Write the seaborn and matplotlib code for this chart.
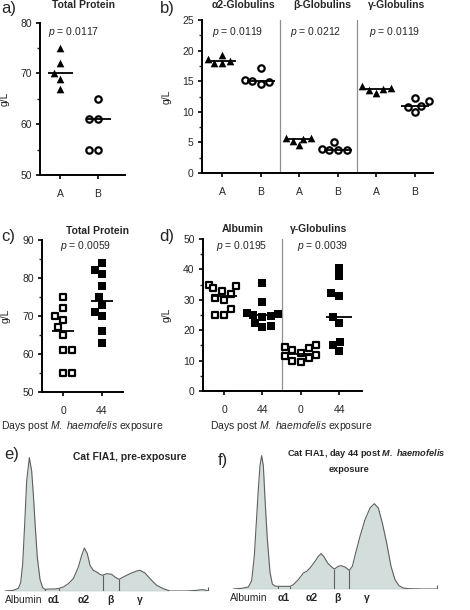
import numpy as np
import pandas as pd
import matplotlib
matplotlib.use("Agg")
import matplotlib.pyplot as plt
import seaborn as sns
from matplotlib.ticker import MultipleLocator

# ---------------- data ----------------
# a) total protein, groups A / B
a_tick_labels = ["A", "B"]
a_A = [75, 72, 70, 69, 67]
a_B = [65, 61, 61, 55, 55]
a_title = "Total Protein"
a_p = "0.0117"

# b) globulin fractions, groups A / B
b_titles = ["α2-Globulins", "β-Globulins", "γ-Globulins"]
b_p = ["0.0119", "0.0212", "0.0119"]
b_tick_labels = ["A", "B", "A", "B", "A", "B"]
b_a2_A = [19.3, 18.7, 18.3, 17.9, 17.9]
b_a2_B = [17.2, 15.2, 15.0, 14.8, 14.5]
b_beta_A = [5.8, 5.7, 5.6, 5.3, 4.5]
b_beta_B = [5.0, 4.0, 3.8, 3.8, 3.7]
b_gam_A = [14.2, 13.9, 13.8, 13.6, 13.1]
b_gam_B = [12.3, 11.7, 10.9, 10.8, 9.9]

# c) total protein, day 0 / day 44
c_tick_labels = ["0", "44"]
c_day0 = [75, 72, 70, 69, 67, 65, 61, 61, 55, 55]
c_day44 = [84, 82, 81, 78, 75, 73, 71, 70, 66, 63]
c_title = "Total Protein"
c_p = "0.0059"

# d) albumin and gamma globulins, day 0 / day 44
d_titles = ["Albumin", "γ-Globulins"]
d_p = ["0.0195", "0.0039"]
d_tick_labels = ["0", "44", "0", "44"]
d_alb_day0 = [35, 34.5, 34, 33, 32, 30.5, 30, 27, 25, 25]
d_alb_day44 = [35.5, 29.3, 25.8, 25.4, 25, 24.7, 24.3, 22.5, 21.5, 21]
d_gam_day0 = [15, 14.5, 14, 13.5, 12.5, 12, 11.5, 11, 10, 9.5]
d_gam_day44 = [40.5, 37.8, 32.3, 31.4, 24.3, 22.4, 16.1, 15, 13.3]

xlabel_days = "Days post $\\mathit{M.\\ haemofelis}$ exposure"

# e) / f) electrophoretograms (migration distance, absorbance trace)
fraction_labels = ["Albumin", "α1", "α2", "β", "γ"]
e_title = "Cat FIA1, pre-exposure"
e_x = [15, 40, 55, 62, 68, 74, 80, 88, 95, 100, 106, 112, 120, 128, 135, 150,
       165, 177, 190, 205, 220, 235, 245, 253, 262, 270, 280, 290, 300, 308,
       320, 335, 345, 357, 370, 390, 410, 420, 435, 450, 470, 490, 510, 560,
       590, 605, 615, 625]
e_h = [0, 2, 8, 25, 80, 200, 330, 400, 360, 290, 190, 100, 35, 10, 5, 6,
       6, 8, 12, 22, 37, 72, 107, 129, 112, 77, 62, 57, 50, 47,
       52, 50, 42, 35, 42, 52, 60, 62, 54, 37, 17, 7, 0, 0,
       2, 4, 3, 0]
e_bounds = [135, 177, 308, 357]
e_label_x = [70, 160, 250, 332, 420]

f_title_1 = "Cat FIA1, day 44 post $\\mathbfit{M.\\ haemofelis}$"
f_title_2 = "exposure"
f_x = [-5, 20, 40, 50, 58, 64, 70, 75, 80, 85, 90, 97, 105, 112, 120, 128,
       145, 165, 175, 190, 205, 215, 225, 240, 250, 258, 266, 278, 290, 298,
       310, 318, 330, 343, 352, 362, 375, 390, 405, 418, 430, 442, 455, 468,
       480, 492, 505, 520, 560, 605]
f_h = [0, 2, 6, 25, 100, 200, 300, 370, 400, 370, 270, 150, 50, 15, 9, 8,
       8, 8, 13, 28, 48, 53, 63, 83, 98, 106, 98, 78, 66, 60,
       68, 70, 66, 56, 68, 108, 158, 208, 243, 256, 243, 198, 138, 68,
       28, 10, 3, 1, 0, 0]
f_bounds = [128, 165, 298, 343]
f_label_x = [40, 145, 230, 308, 395]

# ---------------- style ----------------
sns.set_style("ticks")
plt.rcParams["font.family"] = ["Liberation Sans", "DejaVu Sans"]
plt.rcParams["mathtext.fontset"] = "custom"
plt.rcParams["mathtext.rm"] = "Liberation Sans"
plt.rcParams["mathtext.it"] = "Liberation Sans:italic"
plt.rcParams["mathtext.bf"] = "Liberation Sans:bold"
try:
    plt.rcParams["mathtext.bfit"] = "Liberation Sans:italic:bold"
except KeyError:
    f_title_1 = "Cat FIA1, day 44 post M. haemofelis"

FS = 7.5
W, H = 470, 610
fig = plt.figure(figsize=(W / 100, H / 100), dpi=100)


def px_axes(l, t, r, b):
    return fig.add_axes([l / W, 1 - b / H, (r - l) / W, (b - t) / H])


def ftext(x, y, s, **kw):
    kw.setdefault("ha", "center")
    kw.setdefault("va", "center")
    kw.setdefault("fontsize", FS)
    fig.text(x / W, 1 - y / H, s, **kw)


def draw_group(ax, values, cat, order, marker, filled, size, lw=1.6):
    df = pd.DataFrame({"cat": [cat] * len(values), "val": values})
    if filled:
        sns.swarmplot(data=df, x="cat", y="val", order=order, ax=ax,
                      marker=marker, size=size, color="black",
                      linewidth=0, zorder=3)
    else:
        sns.swarmplot(data=df, x="cat", y="val", order=order, ax=ax,
                      marker=marker, size=size, color="white",
                      edgecolor="black", linewidth=lw, zorder=3)


def draw_medians(ax, groups, order, width_pt):
    df = pd.concat([pd.DataFrame({"cat": [c] * len(v), "val": v})
                    for c, v in groups], ignore_index=True)
    sns.pointplot(data=df, x="cat", y="val", order=order, estimator="median",
                  errorbar=None, color="black", marker="_",
                  markersize=width_pt, markeredgewidth=1.3,
                  linestyle="none", ax=ax, zorder=4)


def style_axis(ax, ylim, major, minor, xlim, ticklabels, label_x):
    ax.set_ylim(*ylim)
    ax.set_xlim(*xlim)
    ax.yaxis.set_major_locator(MultipleLocator(major))
    ax.yaxis.set_minor_locator(MultipleLocator(minor))
    ax.set_xticks(range(len(ticklabels)))
    ax.set_xticklabels(ticklabels)
    for s in ["top", "right"]:
        ax.spines[s].set_visible(False)
    for s in ["left", "bottom"]:
        ax.spines[s].set_linewidth(1.4)
        ax.spines[s].set_color("black")
    ax.tick_params(axis="both", which="major", length=3, width=1.2,
                   labelsize=FS, color="black")
    ax.tick_params(axis="y", which="major", pad=3)
    ax.tick_params(axis="y", which="minor", length=2, width=1.0)
    ax.tick_params(axis="x", which="major", pad=7)
    ax.set_xlabel("")
    ax.set_ylabel("g/L", fontsize=FS)
    ax.yaxis.set_label_coords(label_x, 0.5)
    ax.set_facecolor("none")


# ---------------- a) ----------------
ax_a = px_axes(40, 22.7, 125, 175)
a_order = ["A", "B"]
draw_group(ax_a, a_A, "A", a_order, "^", True, 5.5)
draw_group(ax_a, a_B, "B", a_order, "o", False, 4.6)
draw_medians(ax_a, [("A", a_A), ("B", a_B)], a_order, 18)
style_axis(ax_a, (50, 80), 10, 5, (-0.53, 1.71), a_tick_labels, (10 - 40) / 85)
ftext(83, 5.5, a_title, fontweight="bold")
ftext(74, 32, f"$p$ = {a_p}")

# ---------------- b) ----------------
ax_b = px_axes(202, 20, 433, 173)
b_order = ["a2A", "a2B", "bA", "bB", "gA", "gB"]
for cat, vals in [("a2A", b_a2_A), ("bA", b_beta_A), ("gA", b_gam_A)]:
    draw_group(ax_b, vals, cat, b_order, "^", True, 5.5)
for cat, vals in [("a2B", b_a2_B), ("bB", b_beta_B), ("gB", b_gam_B)]:
    draw_group(ax_b, vals, cat, b_order, "o", False, 4.6)
draw_medians(ax_b, [("a2A", b_a2_A), ("a2B", b_a2_B), ("bA", b_beta_A),
                    ("bB", b_beta_B), ("gA", b_gam_A), ("gB", b_gam_B)],
             b_order, 19.5)
for xs in (1.5, 3.5):
    ax_b.axvline(xs, color="#8f8f8f", lw=0.9, zorder=1)
style_axis(ax_b, (0, 25), 5, 2.5, (-0.52, 5.47), b_tick_labels, (172 - 202) / 231)
for x, t in zip([243, 322, 397], b_titles):
    ftext(x, 5.5, t, fontweight="bold")
for x, p in zip([238, 316, 395], b_p):
    ftext(x, 32, f"$p$ = {p}")

# ---------------- c) ----------------
ax_c = px_axes(42, 240, 123, 392)
c_order = ["d0", "d44"]
draw_group(ax_c, c_day0, "d0", c_order, "s", False, 4.8)
draw_group(ax_c, c_day44, "d44", c_order, "s", True, 5.8)
draw_medians(ax_c, [("d0", c_day0), ("d44", c_day44)], c_order, 16)
style_axis(ax_c, (50, 90), 10, 5, (-0.54, 1.54), c_tick_labels, (11 - 42) / 81)
ax_c.set_xlabel(xlabel_days, fontsize=FS)
ax_c.xaxis.set_label_coords((82 - 42) / 81, -(419 - 392) / 152)
ftext(97, 231, c_title, fontweight="bold")
ftext(86, 246, f"$p$ = {c_p}")

# ---------------- d) ----------------
ax_d = px_axes(203, 239, 362, 391)
d_order = ["a0", "a44", "g0", "g44"]
draw_group(ax_d, d_alb_day0, "a0", d_order, "s", False, 4.8)
draw_group(ax_d, d_gam_day0, "g0", d_order, "s", False, 4.8)
draw_group(ax_d, d_alb_day44, "a44", d_order, "s", True, 5.8)
draw_group(ax_d, d_gam_day44, "g44", d_order, "s", True, 5.8)
draw_medians(ax_d, [("a0", d_alb_day0), ("a44", d_alb_day44),
                    ("g0", d_gam_day0), ("g44", d_gam_day44)], d_order, 19)
ax_d.axvline(1.5, color="#8f8f8f", lw=0.9, zorder=1)
style_axis(ax_d, (0, 50), 10, 5, (-0.55, 3.6), d_tick_labels, (172 - 203) / 159)
ax_d.set_xlabel(xlabel_days, fontsize=FS)
ax_d.xaxis.set_label_coords((291 - 203) / 159, -(419 - 391) / 152)
for x, t in zip([243, 319], d_titles):
    ftext(x, 229, t, fontweight="bold")
for x, p in zip([242, 323], d_p):
    ftext(x, 246, f"$p$ = {p}")

# ---------------- e) / f) electrophoretograms ----------------
FILL = "#d3dedc"
EDGE = "#5f5f5f"


def profile(ax, xs, hs, bounds, label_x, xlim):
    sns.lineplot(x=xs, y=hs, ax=ax, color=EDGE, lw=0.8, sort=False,
                 estimator=None, zorder=3)
    ax.fill_between(xs, 0, hs, color=FILL, lw=0, zorder=2)
    ax.plot([xs[0], xs[-1]], [0, 0], color=EDGE, lw=0.8, zorder=3)
    ax.vlines([xs[0]], -10, 0, color=EDGE, lw=0.8)
    ax.vlines([xs[-1]], 0, 12, color=EDGE, lw=0.8)
    for bx in bounds:
        ax.vlines(bx, 0, np.interp(bx, xs, hs), color=EDGE, lw=0.8, zorder=3)
    for lx, lab in zip(label_x, fraction_labels):
        ax.text(lx, -27, lab, ha="center", va="center", fontsize=FS,
                fontweight="normal" if lab == "Albumin" else "bold",
                clip_on=False)
    ax.set_xlim(*xlim)
    ax.set_ylim(0, 450)
    ax.axis("off")


ax_e = px_axes(0, 441, 235, 591)
profile(ax_e, e_x, e_h, e_bounds, e_label_x, (0, 705))
ax_f = px_axes(230, 439, 465, 589)
profile(ax_f, f_x, f_h, f_bounds, f_label_x, (-15, 690))

ftext(130, 457, e_title, fontweight="bold")
ftext(366, 454, f_title_1, fontweight="bold", fontsize=6.6)
ftext(349, 469, f_title_2, fontweight="bold", fontsize=6.6)

# ---------------- panel letters ----------------
for (x, y), lab in zip([(9, 8), (167, 8), (8, 236), (167, 236), (12, 455), (223, 460)],
                       ["a)", "b)", "c)", "d)", "e)", "f)"]):
    ftext(x, y, lab, fontsize=12)

fig.savefig("out.png", dpi=100)
